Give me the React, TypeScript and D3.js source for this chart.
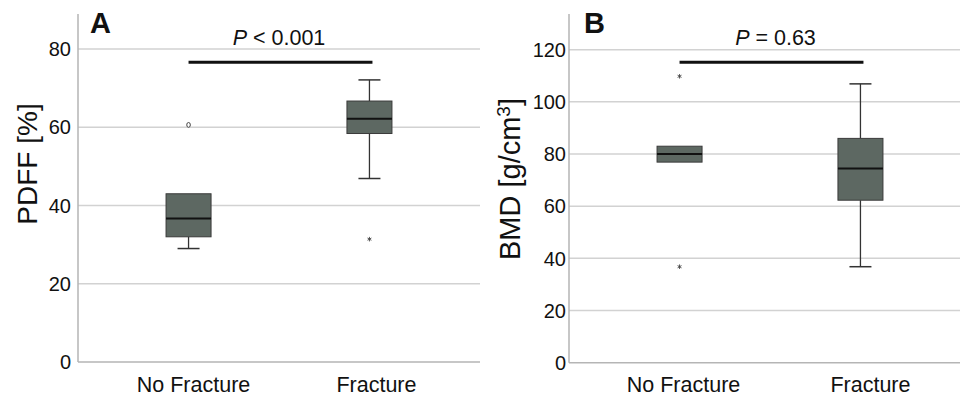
import React from 'react';
import * as d3 from 'd3';

const categories = ['No Fracture', 'Fracture'];

// Panel A: PDFF [%]
const pdffLow = [29.0, 46.9];
const pdffQ1 = [32.0, 58.4];
const pdffMedian = [36.7, 62.2];
const pdffQ3 = [43.0, 66.7];
const pdffHigh = [43.0, 72.1];
const pdffOutliers = [
  { cat: 'No Fracture', value: 60.6, kind: 'circle' },
  { cat: 'Fracture', value: 31.4, kind: 'star' },
];
const pdffTicks = [0, 20, 40, 60, 80];
const pdffSig = 76.6;
const pdffP = 'P < 0.001';

// Panel B: BMD [g/cm3]
const bmdLow = [76.9, 36.8];
const bmdQ1 = [76.9, 62.3];
const bmdMedian = [80.0, 74.5];
const bmdQ3 = [83.0, 86.0];
const bmdHigh = [83.0, 106.9];
const bmdOutliers = [
  { cat: 'No Fracture', value: 109.8, kind: 'star' },
  { cat: 'No Fracture', value: 36.8, kind: 'star' },
];
const bmdTicks = [0, 20, 40, 60, 80, 100, 120];
const bmdSig = 115.2;
const bmdP = 'P = 0.63';

const FONT = 'Liberation Sans, Arial, Helvetica, sans-serif';
const BOX_FILL = '#5d6862';

type Outlier = { cat: string; value: number; kind: string };

interface PanelProps {
  axisX: number;
  yMax: number;
  yMaxPx: number;
  zeroPx: number;
  ticks: number[];
  low: number[];
  q1: number[];
  median: number[];
  q3: number[];
  high: number[];
  outliers: Outlier[];
  sig: number;
  pText: string;
  pX: number;
  letter: string;
  letterX: number;
  tickGap: number;
  yLabel: React.ReactNode;
  yLabelX: number;
  yLabelY: number;
  yLabelSize: number;
  xLabelOffsets: number[];
}

function Panel(p: PanelProps) {
  const plotW = 402;
  const top = 14;
  const y = d3.scaleLinear().domain([0, p.yMax]).range([p.zeroPx, p.yMaxPx]);
  const x = d3
    .scalePoint<string>()
    .domain(categories)
    .range([p.axisX + 0.275 * plotW, p.axisX + 0.725 * plotW]);
  const boxW = 45;
  const capW = 22;
  const starPath = d3.symbol(d3.symbolAsterisk, 14)() || '';
  const stats = categories.map((c, i) => ({
    c,
    low: p.low[i],
    q1: p.q1[i],
    med: p.median[i],
    q3: p.q3[i],
    high: p.high[i],
  }));
  return (
    <g>
      {p.ticks.map((t) => (
        <g key={t}>
          {t > 0 && (
            <line
              x1={p.axisX}
              x2={p.axisX + plotW}
              y1={y(t)}
              y2={y(t)}
              stroke="#d2d2d2"
              strokeWidth={1.5}
            />
          )}
          <text
            x={p.axisX - p.tickGap}
            y={y(t)}
            dy="0.36em"
            textAnchor="end"
            fontFamily={FONT}
            fontSize={20}
            fill="#111"
          >
            {t}
          </text>
        </g>
      ))}
      {/* axes */}
      <line x1={p.axisX} x2={p.axisX} y1={top} y2={p.zeroPx} stroke="#b5b5b5" strokeWidth={1.5} />
      <line x1={p.axisX} x2={p.axisX + plotW} y1={p.zeroPx} y2={p.zeroPx} stroke="#b5b5b5" strokeWidth={1.5} />

      {stats.map((s) => {
        const cx = x(s.c)!;
        return (
          <g key={s.c}>
            {s.high > s.q3 && (
              <>
                <line x1={cx} x2={cx} y1={y(s.high)} y2={y(s.q3)} stroke="#333" strokeWidth={1.3} />
                <line x1={cx - capW / 2} x2={cx + capW / 2} y1={y(s.high)} y2={y(s.high)} stroke="#333" strokeWidth={1.5} />
              </>
            )}
            {s.low < s.q1 && (
              <>
                <line x1={cx} x2={cx} y1={y(s.q1)} y2={y(s.low)} stroke="#333" strokeWidth={1.3} />
                <line x1={cx - capW / 2} x2={cx + capW / 2} y1={y(s.low)} y2={y(s.low)} stroke="#333" strokeWidth={1.5} />
              </>
            )}
            <rect
              x={cx - boxW / 2}
              y={y(s.q3)}
              width={boxW}
              height={y(s.q1) - y(s.q3)}
              fill={BOX_FILL}
              stroke="#3a3a3a"
              strokeWidth={1}
            />
            <line
              x1={cx - boxW / 2}
              x2={cx + boxW / 2}
              y1={y(s.med)}
              y2={y(s.med)}
              stroke="#111"
              strokeWidth={2}
            />
          </g>
        );
      })}

      {p.outliers.map((o, i) =>
        o.kind === 'circle' ? (
          <ellipse
            key={i}
            cx={x(o.cat)!}
            cy={y(o.value)}
            rx={1.8}
            ry={2.4}
            fill="white"
            stroke="#444"
            strokeWidth={1}
          />
        ) : (
          <path
            key={i}
            d={starPath}
            transform={`translate(${x(o.cat)!},${y(o.value)})`}
            fill="none"
            stroke="#444"
            strokeWidth={0.9}
          />
        )
      )}

      {/* significance bar */}
      <line
        x1={x(categories[0])!}
        x2={x(categories[1])! + 3}
        y1={y(p.sig)}
        y2={y(p.sig)}
        stroke="#111"
        strokeWidth={3}
      />
      <text x={p.pX} y={45} textAnchor="middle" fontFamily={FONT} fontSize={21.5} fill="#111">
        <tspan fontStyle="italic">{p.pText.slice(0, 1)}</tspan>
        {p.pText.slice(1)}
      </text>

      <text x={p.letterX} y={33} fontFamily={FONT} fontWeight="bold" fontSize={29} fill="#111">
        {p.letter}
      </text>

      {categories.map((c, i) => (
        <text
          key={c}
          x={x(c)! + p.xLabelOffsets[i]}
          y={392}
          textAnchor="middle"
          fontFamily={FONT}
          fontSize={21.5}
          fill="#111"
        >
          {c}
        </text>
      ))}

      <text
        transform={`translate(${p.yLabelX},${p.yLabelY}) rotate(-90)`}
        textAnchor="middle"
        fontFamily={FONT}
        fontSize={p.yLabelSize}
        fill="#111"
      >
        {p.yLabel}
      </text>
    </g>
  );
}

export default function App() {
  return (
    <svg
      width={960}
      height={397}
      style={{ position: 'absolute', left: 0, top: 0, background: 'white' }}
    >
      <rect width={960} height={397} fill="white" />
      <Panel
        axisX={78}
        yMax={80}
        yMaxPx={49}
        zeroPx={362}
        ticks={pdffTicks}
        low={pdffLow}
        q1={pdffQ1}
        median={pdffMedian}
        q3={pdffQ3}
        high={pdffHigh}
        outliers={pdffOutliers}
        sig={pdffSig}
        pText={pdffP}
        pX={279}
        letter="A"
        letterX={90}
        tickGap={7}
        yLabel="PDFF [%]"
        yLabelX={37}
        yLabelY={164}
        yLabelSize={28}
        xLabelOffsets={[5, 7]}
      />
      <Panel
        axisX={569}
        yMax={120}
        yMaxPx={49.7}
        zeroPx={362.7}
        ticks={bmdTicks}
        low={bmdLow}
        q1={bmdQ1}
        median={bmdMedian}
        q3={bmdQ3}
        high={bmdHigh}
        outliers={bmdOutliers}
        sig={bmdSig}
        pText={bmdP}
        pX={775.5}
        letter="B"
        letterX={584}
        tickGap={3}
        yLabel={
          <>
            BMD [g/cm
            <tspan fontSize={19} dy={-10}>3</tspan>
            <tspan dy={10}>]</tspan>
          </>
        }
        yLabelX={520}
        yLabelY={179}
        yLabelSize={29}
        xLabelOffsets={[4, 10]}
      />
    </svg>
  );
}
